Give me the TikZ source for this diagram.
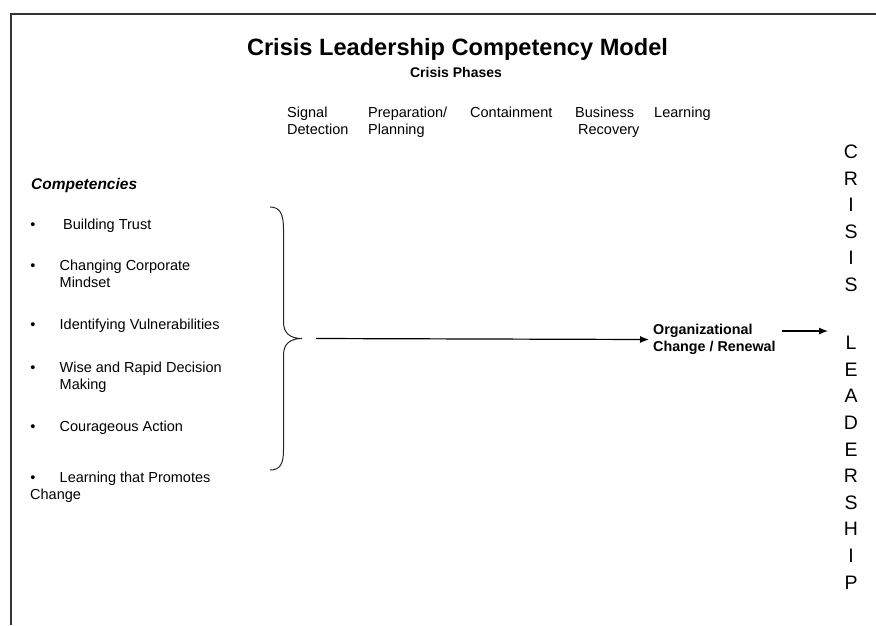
\documentclass[tikz,border=0pt]{standalone}
\usepackage{fontspec}
\setmainfont{Liberation Sans}
\usetikzlibrary{arrows.meta}
\begin{document}
\begin{tikzpicture}[x=1pt,y=-1pt,
  txt/.style={inner sep=0pt, anchor=base west, align=left, font=\fontsize{14.5}{17.5}\selectfont},
  phase/.style={inner sep=0pt, anchor=base west, align=left, font=\fontsize{14.5}{17.5}\selectfont},
  bul/.style={inner sep=0pt, anchor=base, font=\fontsize{14.5}{17.5}\selectfont},
  big/.style={inner sep=0pt, anchor=base, align=center, font=\fontsize{19.5}{26.6}\selectfont},
  frame/.style={draw=black!80, line width=1.5pt},
  conn/.style={draw=black, line width=1.2pt, -{Latex[length=9pt,width=7pt]}},
  bracestyle/.style={draw=black!85, line width=1pt}]
\useasboundingbox (0,0) rectangle (876,625);
% frame
\coordinate (fl) at (10,14);
\coordinate (fr) at (876,14);
\coordinate (fb) at (11,625);
\draw[frame] (fr) -- (fl);
\draw[frame] (11,14) -- (fb);
% titles
\node[inner sep=0pt, anchor=base, font=\bfseries\fontsize{23.6}{28}\selectfont] (title) at (457.5,55) {Crisis Leadership Competency Model};
\node[inner sep=0pt, anchor=base, font=\bfseries\fontsize{14}{17}\selectfont] (phases) at (456,77) {Crisis Phases};
% phases (base anchor = baseline of last line)
\node[phase] (p1) at (287,134.5) {Signal\\Detection};
\node[phase] (p2) at (368,134.5) {Preparation/\\Planning};
\node[phase] (p3) at (470,117) {Containment};
\node[phase] (p4) at (575,134.5) {Business\\\hspace*{3pt}Recovery};
\node[phase] (p5) at (654,117) {Learning};
% competencies
\node[txt, font=\bfseries\itshape\fontsize{15.5}{18}\selectfont] (comp) at (31,189) {Competencies};
\node[bul] (b1) at (33,229) {\textbullet};
\node[txt] (c1) at (63,229) {Building Trust};
\node[bul] (b2) at (33,270) {\textbullet};
\node[txt] (c2) at (59.5,287.5) {Changing Corporate\\Mindset};
\node[bul] (b3) at (33,329) {\textbullet};
\node[txt] (c3) at (59.5,329) {Identifying Vulnerabilities};
\node[bul] (b4) at (33,372) {\textbullet};
\node[txt] (c4) at (59.5,389.5) {Wise and Rapid Decision\\Making};
\node[bul] (b5) at (33,431) {\textbullet};
\node[txt] (c5) at (59.5,431) {Courageous Action};
\node[bul] (b6) at (33,482) {\textbullet};
\node[txt] (c6) at (59.5,482) {Learning that Promotes};
\node[txt] (c6b) at (30,499) {Change};
% brace
\coordinate (btop) at (270,207);
\coordinate (btip) at (302,338.5);
\coordinate (bbot) at (270,470);
\draw[bracestyle] (btop) .. controls (280,207) and (283.5,214) .. (283.5,229) -- (283.5,322)
  .. controls (283.5,333) and (290,338.5) .. (btip)
  .. controls (290,338.5) and (283.5,344) .. (283.5,355) -- (283.5,450)
  .. controls (283.5,464) and (280,470) .. (bbot);
% outcome
\node[inner sep=0pt, anchor=west, align=left, font=\bfseries\fontsize{14.3}{17.5}\selectfont] (org) at (653,339.5) {Organizational\\Change / Renewal};
\coordinate (a1s) at (316,338.5);
\draw[conn] (a1s) -- (org.west -| 649,0);
\coordinate (a2s) at (782,331);
\coordinate (a2e) at (828,331);
\draw[conn] (a2s) -- (a2e);
% vertical words
\node[big] (crisis) at (851,291.5) {C\\R\\I\\S\\I\\S};
\node[big] (leader) at (851,589) {L\\E\\A\\D\\E\\R\\S\\H\\I\\P};
\end{tikzpicture}
\end{document}
